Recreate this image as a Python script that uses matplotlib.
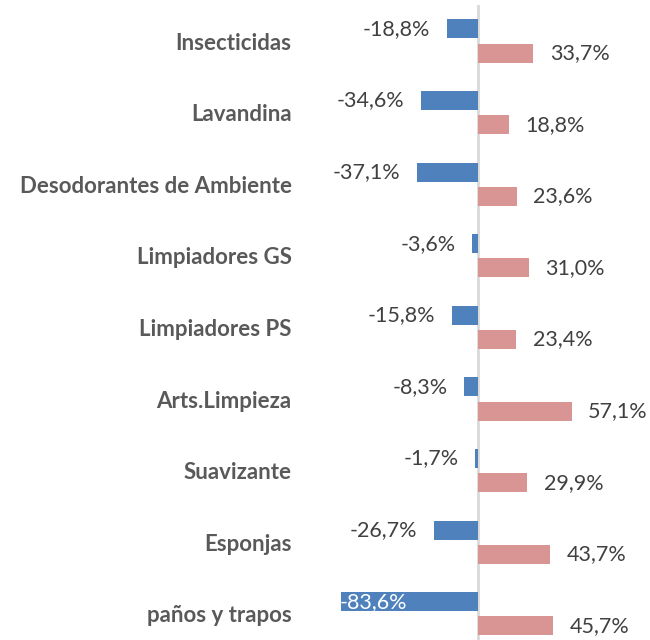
import matplotlib.pyplot as plt
import numpy as np

# data
categorias = ['Insecticidas', 'Lavandina', 'Desodorantes de Ambiente', 'Limpiadores GS',
              'Limpiadores PS', 'Arts.Limpieza', 'Suavizante', 'Esponjas', 'paños y trapos']
var_neg = [-18.8, -34.6, -37.1, -3.6, -15.8, -8.3, -1.7, -26.7, -83.6]
var_pos = [33.7, 18.8, 23.6, 31.0, 23.4, 57.1, 29.9, 43.7, 45.7]

azul = '#4F81BD'
rosa = '#D99594'
gris_txt = '#595959'

fig = plt.figure(figsize=(6.5, 6.4), dpi=100)
fig.patch.set_facecolor('white')
ax = fig.add_axes([300 / 650, 0, 350 / 650, 635 / 640])

y = np.arange(len(categorias))
h = 0.265
off = 0.168

ax.barh(y - off, var_neg, height=h, color=azul, zorder=2)
ax.barh(y + off, var_pos, height=h, color=rosa, zorder=2)
ax.axvline(0, color='#D9D9D9', lw=2, zorder=1)

fs_cat = 16
fs_val = 15.5
for i, v in enumerate(var_neg):
    txt = f'{v:.1f}%'.replace('.', ',')
    if v < -60:
        ax.annotate(txt, (v, i - off), xytext=(-1, 0), textcoords='offset points',
                    ha='left', va='center', color='white', fontsize=fs_val, family='Lato')
    else:
        ax.annotate(txt, (v, i - off), xytext=(-12, 0), textcoords='offset points',
                    ha='right', va='center', color='#404040', fontsize=fs_val, family='Lato')
for i, v in enumerate(var_pos):
    txt = f'{v:.1f}%'.replace('.', ',')
    ax.annotate(txt, (v, i + off), xytext=(12, 0), textcoords='offset points',
                ha='left', va='center', color='#404040', fontsize=fs_val, family='Lato')

ax.set_xlim(-108.5, 104.9)
ax.set_ylim(8.366, -0.503)
ax.set_yticks(y)
ax.set_yticklabels(categorias, fontsize=fs_cat, fontweight='bold', color=gris_txt, family='Lato')
ax.tick_params(axis='y', length=0, pad=6)
ax.set_xticks([])
for s in ax.spines.values():
    s.set_visible(False)

fig.savefig('out.png', dpi=100)
